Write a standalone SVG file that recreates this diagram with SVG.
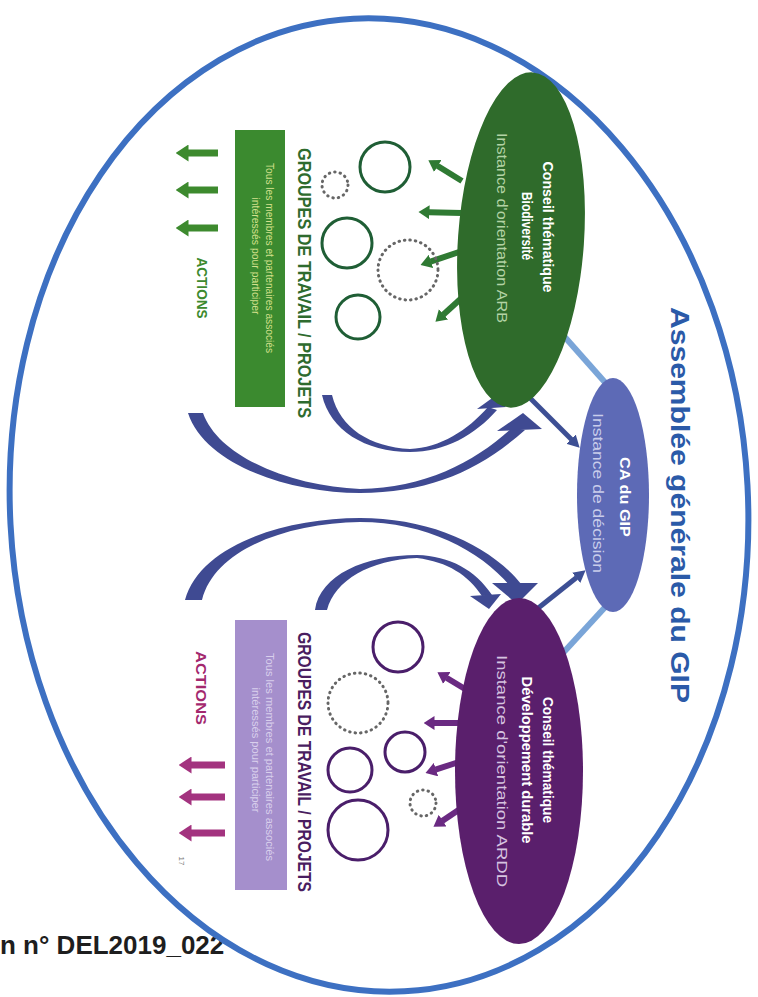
<svg xmlns="http://www.w3.org/2000/svg" width="758" height="997" viewBox="0 0 758 997">
<defs>
<style>
text { font-family: "Liberation Sans", Arial, sans-serif; }
.b { font-weight: bold; }
.gc { fill: none; stroke: #1f5e35; stroke-width: 3; }
.pc { fill: none; stroke: #4a1e6a; stroke-width: 3; }
.dot { fill: none; stroke: #666; stroke-width: 3; stroke-dasharray: 0.5 5; stroke-linecap: round; }
.curve { fill: #3f4a92; }
.ga { stroke: #2f7a33; stroke-width: 6; }
.pa { stroke: #6a2a82; stroke-width: 6; }
.lb { stroke: #7aa5d8; stroke-width: 6; }
.db { stroke: #3d4f94; stroke-width: 5; }
.act-g { stroke: #3d8a2e; stroke-width: 7; }
.act-p { stroke: #a3337f; stroke-width: 7; }
</style>
<marker id="mg" markerUnits="userSpaceOnUse" markerWidth="11" markerHeight="14" viewBox="0 0 11 14" refX="0.5" refY="7" orient="auto"><path d="M0,0 L11,7 L0,14 z" fill="#2f7a33"/></marker>
<marker id="mp" markerUnits="userSpaceOnUse" markerWidth="11" markerHeight="14" viewBox="0 0 11 14" refX="0.5" refY="7" orient="auto"><path d="M0,0 L11,7 L0,14 z" fill="#6a2a82"/></marker>
<marker id="mdb" markerUnits="userSpaceOnUse" markerWidth="12" markerHeight="13" viewBox="0 0 12 13" refX="0.5" refY="6.5" orient="auto"><path d="M0,0 L12,6.5 L0,13 z" fill="#3d4f94"/></marker>
<marker id="mag" markerUnits="userSpaceOnUse" markerWidth="13" markerHeight="17" viewBox="0 0 13 17" refX="0.5" refY="8.5" orient="auto"><path d="M0,0 L13,8.5 L0,17 z" fill="#3d8a2e"/></marker>
<marker id="map" markerUnits="userSpaceOnUse" markerWidth="13" markerHeight="17" viewBox="0 0 13 17" refX="0.5" refY="8.5" orient="auto"><path d="M0,0 L13,8.5 L0,17 z" fill="#a3337f"/></marker>
</defs>
<rect width="758" height="997" fill="#ffffff"/>

<g id="footer">
<text x="0" y="954" font-size="26" class="b" fill="#1e1e1e">n n° DEL2019_022</text>
</g>

<g id="assemblee">
<ellipse cx="379" cy="505" rx="369" ry="487" transform="rotate(-3 379 505)" fill="none" stroke="#3d70c2" stroke-width="6"/>
<text transform="translate(671,505) rotate(90)" text-anchor="middle" font-size="26" class="b" textLength="396" lengthAdjust="spacingAndGlyphs" fill="#2b5aa8">Assemblée générale du GIP</text>
</g>

<g id="connectors">
<line class="lb" x1="563" y1="335" x2="610" y2="388"/>
<line class="lb" x1="563" y1="653" x2="608" y2="604"/>
<line class="db" x1="530" y1="398" x2="571.5" y2="439.5" marker-end="url(#mdb)"/>
<line class="db" x1="532" y1="613" x2="576.6" y2="577.5" marker-end="url(#mdb)"/>
<path class="curve" d="M188,413 C205,465 290,493 360,493 L360,489 C298,487 220,460 203,413 Z"/>
<path class="curve" d="M360,493 C430,493 480,470 525,430 L512,428 C475,462 425,488 360,489 Z"/>
<path class="curve" d="M497,431 L542,429 L523,413 Z"/>
<path class="curve" d="M322,395 C330,430 365,452 410,452 L410,449 C370,447 340,428 332,395 Z"/>
<path class="curve" d="M410,452 C445,452 475,435 497,410 L488,407 C468,430 440,448 410,449 Z"/>
<path class="curve" d="M477,409 L506,407 L495,396 Z"/>
<path class="curve" d="M185,600 C200,545 285,518 360,518 L360,522 C290,523 215,548 202,600 Z"/>
<path class="curve" d="M360,518 C430,518 490,545 522,585 L510,586 C480,550 425,522 360,522 Z"/>
<path class="curve" d="M492,583 L538,583 L517,604 Z"/>
<path class="curve" d="M315,610 C320,575 365,555 417,555 L417,558 C370,560 335,580 327,610 Z"/>
<path class="curve" d="M417,555 C450,556 475,570 492,595 L482,596 C468,575 448,562 417,558 Z"/>
<path class="curve" d="M470,596 L501,594 L489,609 Z"/>
<line class="ga" x1="462" y1="181" x2="437.3" y2="165.8" marker-end="url(#mg)"/>
<line class="ga" x1="462" y1="213" x2="429" y2="212.3" marker-end="url(#mg)"/>
<line class="ga" x1="462" y1="251" x2="430.5" y2="261.6" marker-end="url(#mg)"/>
<line class="ga" x1="466" y1="294" x2="443.2" y2="314.7" marker-end="url(#mg)"/>
<line class="pa" x1="470" y1="692" x2="446.4" y2="677.7" marker-end="url(#mp)"/>
<line class="pa" x1="462" y1="723" x2="434" y2="723" marker-end="url(#mp)"/>
<line class="pa" x1="462" y1="761" x2="435.5" y2="769.7" marker-end="url(#mp)"/>
<line class="pa" x1="466" y1="805" x2="442.2" y2="820.9" marker-end="url(#mp)"/>
<line class="act-g" x1="218" y1="153" x2="188" y2="153" marker-end="url(#mag)"/>
<line class="act-g" x1="218" y1="190" x2="188" y2="190" marker-end="url(#mag)"/>
<line class="act-g" x1="218" y1="228" x2="188" y2="228" marker-end="url(#mag)"/>
<line class="act-p" x1="225" y1="765" x2="191" y2="765" marker-end="url(#map)"/>
<line class="act-p" x1="225" y1="797" x2="191" y2="797" marker-end="url(#map)"/>
<line class="act-p" x1="225" y1="833" x2="191" y2="833" marker-end="url(#map)"/>
</g>

<g id="conseil-biodiversite">
<ellipse cx="521" cy="240" rx="63" ry="168" transform="rotate(4 521 240)" fill="#2f6b2b"/>
<text transform="translate(543,227) rotate(90)" text-anchor="middle" font-size="14" class="b" textLength="131" lengthAdjust="spacingAndGlyphs" fill="#ffffff">Conseil thématique</text>
<text transform="translate(522,226) rotate(90)" text-anchor="middle" font-size="14" class="b" textLength="68" lengthAdjust="spacingAndGlyphs" fill="#ffffff">Biodiversité</text>
<text transform="translate(497,228) rotate(90)" text-anchor="middle" font-size="14" textLength="190" lengthAdjust="spacingAndGlyphs" fill="#b3d3a5">Instance d'orientation ARB</text>
</g>

<g id="ca-gip">
<ellipse cx="613" cy="495" rx="36" ry="117" fill="#5d6ab6"/>
<text transform="translate(620,497) rotate(90)" text-anchor="middle" font-size="14" class="b" textLength="80" lengthAdjust="spacingAndGlyphs" fill="#ffffff">CA du GIP</text>
<text transform="translate(593,493) rotate(90)" text-anchor="middle" font-size="14" textLength="160" lengthAdjust="spacingAndGlyphs" fill="#c9cdeb">Instance de décision</text>
</g>

<g id="conseil-dev-durable">
<ellipse cx="519" cy="771" rx="64" ry="173" fill="#5a1f6c"/>
<text transform="translate(543,760) rotate(90)" text-anchor="middle" font-size="14" class="b" textLength="126" lengthAdjust="spacingAndGlyphs" fill="#ffffff">Conseil thématique</text>
<text transform="translate(522,760) rotate(90)" text-anchor="middle" font-size="14" class="b" textLength="167" lengthAdjust="spacingAndGlyphs" fill="#ffffff">Développement durable</text>
<text transform="translate(497,771) rotate(90)" text-anchor="middle" font-size="14" textLength="232" lengthAdjust="spacingAndGlyphs" fill="#d6c3e0">Instance d'orientation ARDD</text>
</g>

<g id="groupes-biodiversite">
<circle class="gc" cx="385" cy="167" r="25"/>
<circle class="dot" cx="335" cy="185" r="13"/>
<circle class="gc" cx="347" cy="243" r="25"/>
<circle class="dot" cx="408" cy="270" r="30"/>
<circle class="gc" cx="358" cy="317" r="22"/>
<text transform="translate(298,283) rotate(90)" text-anchor="middle" font-size="19" class="b" textLength="270" lengthAdjust="spacingAndGlyphs" fill="#2e6b2e">GROUPES DE TRAVAIL / PROJETS</text>
</g>

<g id="membres-biodiversite">
<rect x="235" y="130" width="50" height="277" fill="#3b8a2f"/>
<text transform="translate(266,258) rotate(90)" text-anchor="middle" font-size="10" textLength="190" lengthAdjust="spacingAndGlyphs" fill="#d3e08c">Tous les membres et partenaires associés</text>
<text transform="translate(252,256) rotate(90)" text-anchor="middle" font-size="10" textLength="117" lengthAdjust="spacingAndGlyphs" fill="#d3e08c">intéressés pour participer</text>
</g>

<g id="actions-biodiversite">
<text transform="translate(197,288) rotate(90)" text-anchor="middle" font-size="14" class="b" textLength="61" lengthAdjust="spacingAndGlyphs" fill="#3d8a2e">ACTIONS</text>
</g>

<g id="groupes-dev-durable">
<circle class="pc" cx="398" cy="647" r="25"/>
<circle class="dot" cx="358" cy="703" r="30"/>
<circle class="pc" cx="405" cy="752" r="20"/>
<circle class="pc" cx="350" cy="770" r="22"/>
<circle class="dot" cx="423" cy="803" r="13"/>
<circle class="pc" cx="358" cy="830" r="30"/>
<text transform="translate(298,762) rotate(90)" text-anchor="middle" font-size="19" class="b" textLength="260" lengthAdjust="spacingAndGlyphs" fill="#4a1d60">GROUPES DE TRAVAIL / PROJETS</text>
</g>

<g id="membres-dev-durable">
<rect x="235" y="620" width="52" height="270" fill="#a58fcc"/>
<text transform="translate(266,757) rotate(90)" text-anchor="middle" font-size="10" textLength="208" lengthAdjust="spacingAndGlyphs" fill="#d9cfec">Tous les membres et partenaires associés</text>
<text transform="translate(252,750) rotate(90)" text-anchor="middle" font-size="10" textLength="125" lengthAdjust="spacingAndGlyphs" fill="#d9cfec">intéressés pour participer</text>
</g>

<g id="actions-dev-durable">
<text transform="translate(196,688) rotate(90)" text-anchor="middle" font-size="15" class="b" textLength="74" lengthAdjust="spacingAndGlyphs" fill="#a3286e">ACTIONS</text>
<text transform="translate(179,861) rotate(90)" text-anchor="middle" font-size="8" fill="#777777">17</text>
</g>
</svg>
